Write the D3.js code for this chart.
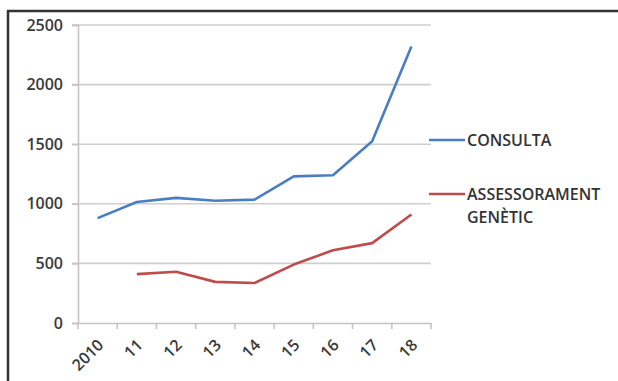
<!DOCTYPE html>
<html>
<head>
<meta charset="utf-8">
<script src="https://cdn.jsdelivr.net/npm/d3@7"></script>
<style>
  html, body { margin: 0; padding: 0; background: #fff; }
  svg { display: block; }
  .tick text { font-family: "Open Sans", "DejaVu Sans", sans-serif; font-weight: 600; }
</style>
</head>
<body>
<div id="chart"></div>
<script>
// data
const years = ["2010", "11", "12", "13", "14", "15", "16", "17", "18"];
const consulta = [880, 1015, 1050, 1025, 1035, 1230, 1240, 1525, 2320];
const assessorament = [null, 410, 430, 345, 335, 490, 610, 670, 910];
const yTicks = [0, 500, 1000, 1500, 2000, 2500];

const W = 618, H = 381;
const margin = { top: 25, left: 78 };
const iw = 431 - margin.left, ih = 323 - margin.top;

const svg = d3.select("#chart").append("svg").attr("width", W).attr("height", H);

// frame (only top and left edges are in view)
svg.append("line").attr("x1", 7).attr("x2", W).attr("y1", 11).attr("y2", 11)
  .attr("stroke", "#333").attr("stroke-width", 2.5);
svg.append("line").attr("x1", 8).attr("x2", 8).attr("y1", 10).attr("y2", H)
  .attr("stroke", "#333").attr("stroke-width", 2.5);

const g = svg.append("g").attr("transform", `translate(${margin.left},${margin.top})`);

const x = d3.scaleBand().domain(years).range([0, iw]);
const y = d3.scaleLinear().domain([0, 2500]).range([ih, 0]);

// gridlines
g.selectAll(".grid").data(yTicks.filter(d => d > 0)).join("line")
  .attr("x1", -6).attr("x2", iw).attr("y1", d => y(d)).attr("y2", d => y(d))
  .attr("stroke", "#cfcfcf").attr("stroke-width", 1.6);

// y axis
const gy = g.append("g").call(d3.axisLeft(y).tickValues(yTicks).tickFormat(d3.format("d")).tickSize(6).tickPadding(9));
gy.select(".domain").attr("stroke", "#c4c4c4").attr("stroke-width", 1.6);
gy.selectAll(".tick line").attr("stroke", "#c4c4c4").attr("stroke-width", 1.6);
gy.selectAll(".tick text").attr("fill", "#3a3a3a").attr("font-size", 16);

// x axis, ticks sit on category boundaries
const gx = g.append("g").attr("transform", `translate(0,${ih})`)
  .call(d3.axisBottom(x).tickSize(0));
gx.select(".domain").attr("stroke", "#c4c4c4").attr("stroke-width", 1.6);
gx.selectAll(".tick text").attr("fill", "#3a3a3a").attr("font-size", 16)
  .attr("text-anchor", "end").attr("x", 0).attr("y", 0).attr("dy", "0.35em")
  .attr("transform", "translate(3,19) rotate(-45)");
gx.selectAll(".bound").data(d3.range(years.length + 1)).join("line")
  .attr("x1", i => i * x.step()).attr("x2", i => i * x.step())
  .attr("y1", 0).attr("y2", 6).attr("stroke", "#c4c4c4").attr("stroke-width", 1.6);

const cx = (d, i) => x(years[i]) + x.bandwidth() / 2;
const line = d3.line().defined(d => d != null).x(cx).y(d => y(d));

g.append("path").attr("d", line(consulta)).attr("fill", "none")
  .attr("stroke", "#4a7ec2").attr("stroke-width", 2.6).attr("stroke-linejoin", "round");
g.append("path").attr("d", line(assessorament)).attr("fill", "none")
  .attr("stroke", "#bf4b4b").attr("stroke-width", 2.6).attr("stroke-linejoin", "round");

// legend
const legend = [
  { color: "#4a7ec2", lines: ["CONSULTA"], y: 140 },
  { color: "#bf4b4b", lines: ["ASSESSORAMENT", "GENÈTIC"], y: 194 }
];
legend.forEach(l => {
  svg.append("line").attr("x1", 429).attr("x2", 465).attr("y1", l.y).attr("y2", l.y)
    .attr("stroke", l.color).attr("stroke-width", 2.6);
  const t = svg.append("text").attr("x", 467).attr("y", l.y)
    .attr("font-family", "'Open Sans', 'DejaVu Sans', sans-serif").attr("font-weight", 600)
    .attr("font-size", 16).attr("fill", "#333");
  l.lines.forEach((s, i) => t.append("tspan").attr("x", 467).attr("dy", i === 0 ? "0.35em" : 23).text(s));
});
</script>
</body>
</html>
